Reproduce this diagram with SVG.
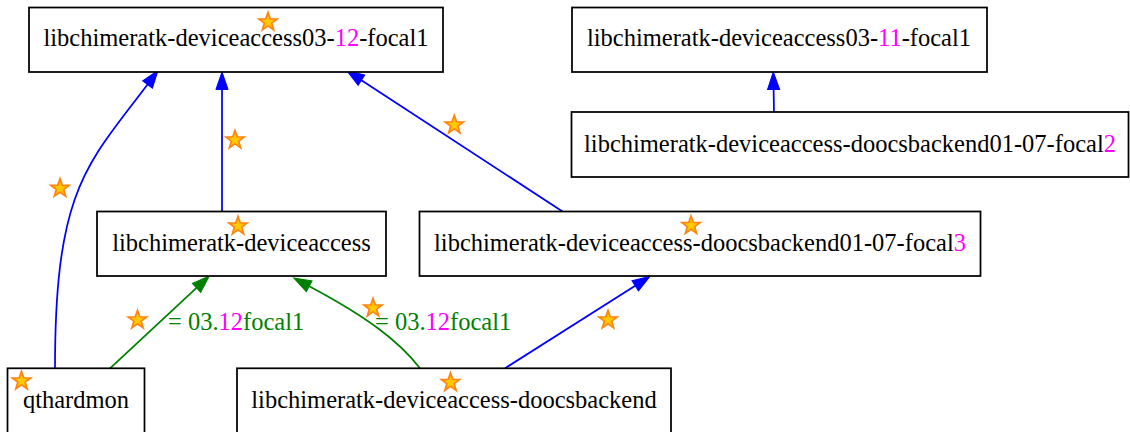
<svg xmlns="http://www.w3.org/2000/svg" width="1130" height="432" viewBox="0 0 1130 432">
<style>
.box{fill:#ffffff;stroke:#000000;stroke-width:1.75}
.t{font-family:"Liberation Serif","Times New Roman",serif;font-size:24.5px;fill:#000000}
.m{fill:#ff00ff}
.lbl{font-family:"Liberation Serif","Times New Roman",serif;font-size:24.5px;fill:#008000}
.eb{fill:none;stroke:#0000ff;stroke-width:1.75}
.eg{fill:none;stroke:#008000;stroke-width:1.75}
.star{fill:url(#sg);stroke:#ff8410;stroke-width:1.6;stroke-linejoin:miter}
</style>
<defs>
<radialGradient id="sg" cx="0.5" cy="0.55" r="0.5">
<stop offset="0" stop-color="#ffd200"/>
<stop offset="0.5" stop-color="#ffbe00"/>
<stop offset="1" stop-color="#ff9410"/>
</radialGradient>
<polygon id="st" class="star" points="0,-9.8 2.30,-3.17 9.32,-3.03 3.73,1.21 5.76,7.93 0,3.92 -5.76,7.93 -3.73,1.21 -9.32,-3.03 -2.30,-3.17"/>
<marker id="ab" markerUnits="userSpaceOnUse" markerWidth="18" markerHeight="13" refX="0" refY="6.1" orient="auto" overflow="visible">
<path d="M0,0 L17.5,6.1 L0,12.2 z" fill="#0000ff" stroke="#0000ff" stroke-width="1"/>
</marker>
<marker id="ag" markerUnits="userSpaceOnUse" markerWidth="18" markerHeight="13" refX="0" refY="6.1" orient="auto" overflow="visible">
<path d="M0,0 L17.5,6.1 L0,12.2 z" fill="#008000" stroke="#008000" stroke-width="1"/>
</marker>
</defs>
<rect x="0" y="0" width="1130" height="432" fill="#ffffff"/>
<g id="connectors">
<path class="eb" d="M55,368 C55,188 87.5,164.5 147.5,84.5" marker-end="url(#ab)"/>
<path class="eb" d="M222,211.5 L222,89.5" marker-end="url(#ab)"/>
<path class="eb" d="M562.5,211.5 L361.4,80.2" marker-end="url(#ab)"/>
<path class="eb" d="M774,112 L773.6,89.5" marker-end="url(#ab)"/>
<path class="eg" d="M110,368.3 L196.5,287.9" marker-end="url(#ag)"/>
<path class="eg" d="M420,368.3 C398,340 365,316 309.2,286.3" marker-end="url(#ag)"/>
<path class="eb" d="M505,368.3 L635.2,285.8" marker-end="url(#ab)"/>
<text class="lbl" x="168" y="329.5">= 03.<tspan class="m">12</tspan>focal1</text>
<text class="lbl" x="375" y="329.5">= 03.<tspan class="m">12</tspan>focal1</text>
<use href="#st" x="235" y="140"/>
<use href="#st" x="60" y="188.3"/>
<use href="#st" x="454.3" y="125"/>
<use href="#st" x="137.5" y="320"/>
<use href="#st" x="373" y="308"/>
<use href="#st" x="608" y="320"/>
</g>
<g id="n_da0312">
<rect class="box" x="29" y="7.5" width="414" height="64.5"/>
<text class="t" x="236" y="45.5" text-anchor="middle">libchimeratk-deviceaccess03-<tspan class="m">12</tspan>-focal1</text>
<use href="#st" x="268" y="22"/>
</g>
<g id="n_da0311">
<rect class="box" x="572" y="7.5" width="415" height="64.5"/>
<text class="t" x="779" y="45.5" text-anchor="middle">libchimeratk-deviceaccess03-<tspan class="m">11</tspan>-focal1</text>
</g>
<g id="n_doocs_focal2">
<rect class="box" x="571.5" y="112" width="557" height="65"/>
<text class="t" x="850" y="151.5" text-anchor="middle">libchimeratk-deviceaccess-doocsbackend01-07-focal<tspan class="m">2</tspan></text>
</g>
<g id="n_deviceaccess">
<rect class="box" x="97" y="211.5" width="289" height="64.5"/>
<text class="t" x="241.5" y="250.5" text-anchor="middle">libchimeratk-deviceaccess</text>
<use href="#st" x="238" y="226"/>
</g>
<g id="n_doocs_focal3">
<rect class="box" x="419.5" y="211.5" width="561" height="64.5"/>
<text class="t" x="700" y="250.5" text-anchor="middle">libchimeratk-deviceaccess-doocsbackend01-07-focal<tspan class="m">3</tspan></text>
<use href="#st" x="691" y="225.5"/>
</g>
<g id="n_qthardmon">
<rect class="box" x="7.5" y="368.3" width="137" height="65"/>
<text class="t" x="76" y="407.5" text-anchor="middle">qthardmon</text>
<use href="#st" x="21.5" y="381"/>
</g>
<g id="n_doocsbackend">
<rect class="box" x="237" y="368.3" width="434" height="65"/>
<text class="t" x="454" y="407.5" text-anchor="middle">libchimeratk-deviceaccess-doocsbackend</text>
<use href="#st" x="450.5" y="382.5"/>
</g>
</svg>
